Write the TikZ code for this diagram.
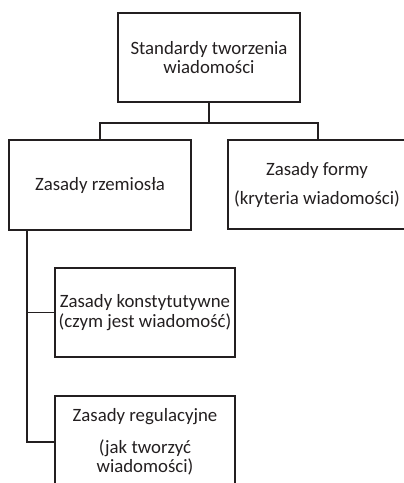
\documentclass[tikz,border=0pt]{standalone}
\usepackage{fontspec}
\setmainfont{Carlito}
\definecolor{ink}{HTML}{231F20}
\begin{document}
\begin{tikzpicture}[x=1pt,y=-1pt,
  box/.style={draw=ink,line width=1.7pt,rectangle,inner sep=0pt,align=center,text=ink,
    font=\fontsize{18.8pt}{19.5pt}\selectfont},
  conn/.style={draw=ink,line width=1.7pt}]
\useasboundingbox (0,0) rectangle (404,483);
\clip (0,0) rectangle (404,483);
\node[box,minimum width=182pt,minimum height=89pt] (top) at (209,57.5) {Standardy tworzenia\\wiadomości};
\node[box,minimum width=182pt,minimum height=90pt] (rz) at (100,185) {Zasady rzemiosła};
\node[box,minimum width=178pt,minimum height=89pt] (forma) at (317,184.5) {Zasady formy\\[9.5pt](kryteria wiadomości)};
\node[box,minimum width=180pt,minimum height=89pt] (konst) at (145,312.5) {Zasady konstytutywne\\(czym jest wiadomość)};
\node[box,minimum width=180pt,minimum height=92pt] (reg) at (145,442) {Zasady regulacyjne\\[12.5pt](jak tworzyć\\wiadomości)};
\coordinate (j) at ([yshift=-20pt]top.south);
\draw[conn] (top.south) -- (j);
\draw[conn] (rz.north) |- (j) -| ([xshift=1pt]forma.north);
\coordinate (s) at ([xshift=19pt]rz.south west);
\draw[conn] (s) |- (reg.west);
\draw[conn] (s) |- (konst.west);
\end{tikzpicture}
\end{document}
